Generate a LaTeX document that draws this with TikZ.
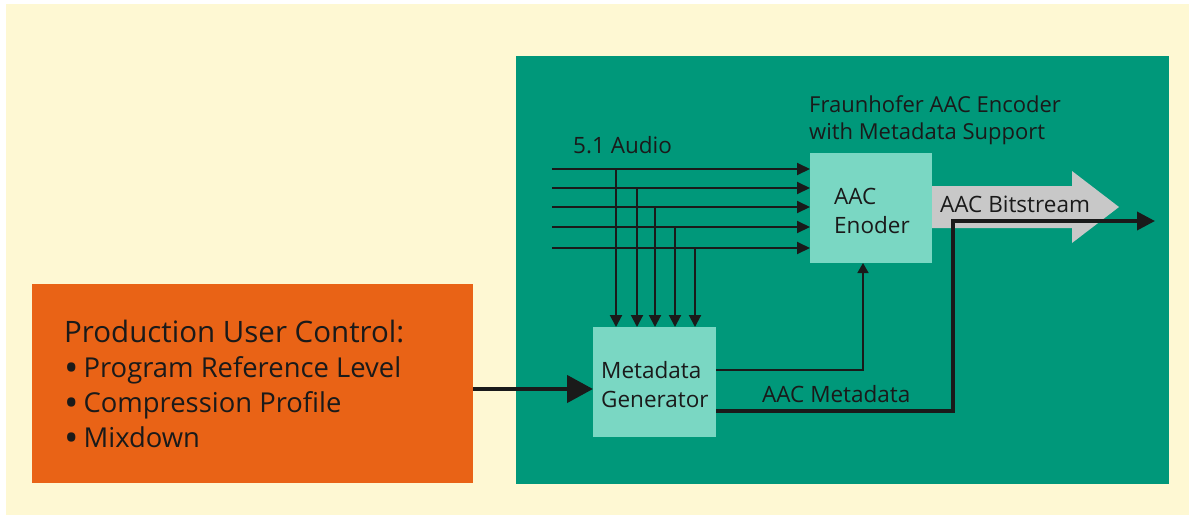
\documentclass[tikz,border=0pt]{standalone}
\usepackage{fontspec}
\setmainfont{Open Sans}
\usetikzlibrary{arrows.meta}
\definecolor{cream}{HTML}{FEF8D3}
\definecolor{panel}{HTML}{00987A}
\definecolor{block}{HTML}{7AD7C3}
\definecolor{ctrl}{HTML}{E96316}
\definecolor{stream}{HTML}{C8C8C8}
\definecolor{ink}{HTML}{1A1A1A}
\newcommand{\ctrlitem}[1]{{\fontsize{27.4}{34.7}\selectfont\raisebox{-4pt}{\scalebox{1.4}{•}}\hspace{5pt}#1}}
\tikzset{
  area/.style={inner sep=0pt, anchor=north west},
  blockbox/.style={area, fill=block},
  lbl/.style={inner sep=0pt, anchor=base west, text=ink, font=\fontsize{22.5}{29}\selectfont, align=left},
  sig/.style={draw=ink, line width=2pt, -{Triangle[length=13pt,width=12pt]}},
  thin/.style={draw=ink, line width=1.6pt},
  heavy/.style={draw=ink, line width=3.6pt},
}
\begin{document}
\begin{tikzpicture}[x=1pt,y=-1pt]
\useasboundingbox (0,0) rectangle (1189,515);
\fill[white] (0,0) rectangle (1189,515);
\fill[cream] (6,4) rectangle (1189,515);

% panels
\node[area, fill=panel, minimum width=653pt, minimum height=428pt] (panel) at (516,56) {};
\node[area, fill=ctrl, minimum width=441pt, minimum height=199pt] (ctrl) at (32,284) {};
\node[blockbox, minimum width=122pt, minimum height=110pt] (enc) at (810,153) {};
\node[blockbox, minimum width=123pt, minimum height=110pt] (gen) at (593,327) {};

% bitstream arrow
\fill[stream] (932,186) -- (1072,186) -- (1072,171) -- (1119,207) -- (1072,243) -- (1072,228) -- (932,228) -- cycle;

% labels (multi-line nodes are placed by the baseline of their last line)
\node[lbl, font=\fontsize{22}{27}\selectfont] (title) at (809,139) {Fraunhofer AAC Encoder\\with Metadata Support};
\node[lbl] (audio) at (573,153) {5.1 Audio};
\node[lbl] (enctxt) at (834,233) {AAC\\Enoder};
\node[lbl] (gentxt) at (601,407) {Metadata\\Generator};
\node[lbl] (bits) at (940,212) {AAC Bitstream};
\node[lbl] (meta) at (762,402) {AAC Metadata};
\node[lbl, font=\fontsize{29.5}{34.7}\selectfont] (ctrltxt) at (64,447)
  {Production User Control:\\\ctrlitem{Program Reference Level}\\\ctrlitem{Compression Profile}\\\ctrlitem{Mixdown}};

% audio channels
\foreach \i/\y/\x in {1/169/616, 2/188/637, 3/207/655, 4/227/675, 5/248/695}{
  \coordinate (in\i) at (552,\y);
  \coordinate (tap\i) at (\x,\y);
  \draw[sig] (in\i) -- (in\i -| enc.west);
  \draw[sig, -{Triangle[length=12pt,width=12pt]}] (tap\i) -- (tap\i |- gen.north);
}

% metadata paths
\coordinate (gA) at (716,370);
\coordinate (gB) at (716,411);
\coordinate (encin) at (863,263);
\coordinate (out) at (1155,221);
\draw[thin, -{Triangle[length=10pt,width=11pt]}] (gA) -| (encin);
\draw[heavy, -{Triangle[length=18pt,width=18pt]}] (gB) -- (953,411) |- (out);

% user control into generator
\draw[draw=ink, line width=4.5pt, -{Triangle[length=26pt,width=27pt]}] (ctrl.east |- 0,389) -- (gen.west |- 0,389);
\end{tikzpicture}
\end{document}
